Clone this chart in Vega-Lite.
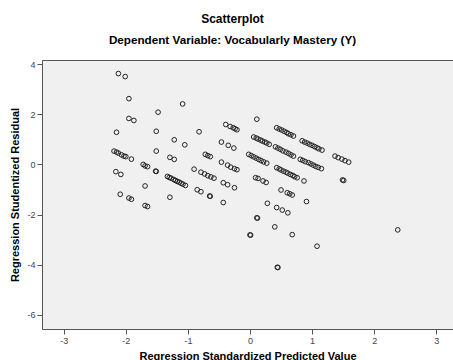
{
  "$schema": "https://vega.github.io/schema/vega-lite/v6.json",
  "autosize": {"type": "none"},
  "padding": {"left": 42, "top": 60, "right": 0, "bottom": 31},
  "width": 411,
  "height": 269,
  "background": "white",
  "config": {
    "font": "Liberation Sans",
    "view": {"fill": "#f0f0f0", "stroke": "#555555", "strokeWidth": 1}
  },
  "title": {
    "text": "Scatterplot",
    "subtitle": "Dependent Variable: Vocabularly Mastery (Y)",
    "anchor": "middle",
    "dx": -15,
    "fontSize": 12,
    "fontWeight": "bold",
    "color": "#000000",
    "subtitleFontSize": 11.7,
    "subtitleFontWeight": "bold",
    "subtitleColor": "#000000",
    "subtitlePadding": 9,
    "offset": 12
  },
  "data": {
    "values": [
      {"x": -2.19, "y": 0.53}, {"x": -2.15, "y": 0.49}, {"x": -2.12, "y": 0.45}, {"x": -2.07, "y": 0.38}, {"x": -2.03, "y": 0.33}, {"x": -2.0, "y": 0.31},
      {"x": -1.33, "y": -0.48}, {"x": -1.3, "y": -0.52}, {"x": -1.27, "y": -0.55}, {"x": -1.23, "y": -0.6}, {"x": -1.2, "y": -0.64}, {"x": -1.17, "y": -0.68}, {"x": -1.14, "y": -0.71}, {"x": -1.11, "y": -0.75}, {"x": -1.08, "y": -0.79}, {"x": -1.04, "y": -0.84},
      {"x": -0.9, "y": -0.19}, {"x": -0.79, "y": -0.31}, {"x": -0.73, "y": -0.38}, {"x": -0.68, "y": -0.45}, {"x": -0.63, "y": -0.5}, {"x": -0.58, "y": -0.55},
      {"x": -0.39, "y": 1.59}, {"x": -0.32, "y": 1.51}, {"x": -0.27, "y": 1.46}, {"x": -0.24, "y": 1.42}, {"x": -0.21, "y": 1.38},
      {"x": -0.46, "y": 0.09}, {"x": -0.36, "y": -0.03}, {"x": -0.31, "y": -0.11}, {"x": -0.25, "y": -0.17}, {"x": -0.21, "y": -0.21},
      {"x": 0.06, "y": 1.09}, {"x": 0.1, "y": 1.05}, {"x": 0.13, "y": 1.01}, {"x": 0.17, "y": 0.97}, {"x": 0.2, "y": 0.93}, {"x": 0.24, "y": 0.89}, {"x": 0.27, "y": 0.85}, {"x": 0.31, "y": 0.8},
      {"x": -0.02, "y": 0.4}, {"x": 0.02, "y": 0.35}, {"x": 0.06, "y": 0.3}, {"x": 0.1, "y": 0.25}, {"x": 0.14, "y": 0.2}, {"x": 0.18, "y": 0.15}, {"x": 0.22, "y": 0.1}, {"x": 0.27, "y": 0.05},
      {"x": 0.43, "y": 1.46}, {"x": 0.47, "y": 1.41}, {"x": 0.51, "y": 1.37}, {"x": 0.55, "y": 1.32}, {"x": 0.59, "y": 1.27}, {"x": 0.62, "y": 1.22}, {"x": 0.66, "y": 1.18}, {"x": 0.7, "y": 1.13},
      {"x": 0.41, "y": 0.7}, {"x": 0.45, "y": 0.65}, {"x": 0.49, "y": 0.6}, {"x": 0.53, "y": 0.54}, {"x": 0.58, "y": 0.49}, {"x": 0.62, "y": 0.44}, {"x": 0.66, "y": 0.38}, {"x": 0.7, "y": 0.33},
      {"x": 0.43, "y": -0.13}, {"x": 0.47, "y": -0.18}, {"x": 0.5, "y": -0.22}, {"x": 0.54, "y": -0.27}, {"x": 0.58, "y": -0.31}, {"x": 0.61, "y": -0.35}, {"x": 0.65, "y": -0.4}, {"x": 0.69, "y": -0.44}, {"x": 0.72, "y": -0.49}, {"x": 0.76, "y": -0.53},
      {"x": 0.84, "y": 0.94}, {"x": 0.88, "y": 0.89}, {"x": 0.92, "y": 0.85}, {"x": 0.96, "y": 0.8}, {"x": 1.0, "y": 0.76}, {"x": 1.04, "y": 0.71}, {"x": 1.08, "y": 0.66}, {"x": 1.11, "y": 0.62}, {"x": 1.16, "y": 0.57},
      {"x": 0.81, "y": 0.2}, {"x": 0.85, "y": 0.16}, {"x": 0.89, "y": 0.11}, {"x": 0.94, "y": 0.07}, {"x": 0.98, "y": 0.02}, {"x": 1.02, "y": -0.03}, {"x": 1.06, "y": -0.08}, {"x": 1.1, "y": -0.12}, {"x": 1.15, "y": -0.17},
      {"x": 1.37, "y": 0.33}, {"x": 1.42, "y": 0.27}, {"x": 1.48, "y": 0.21}, {"x": 1.53, "y": 0.15}, {"x": 1.59, "y": 0.09},
      {"x": -2.12, "y": 3.62}, {"x": -2.01, "y": 3.5}, {"x": -1.95, "y": 2.62}, {"x": -1.95, "y": 1.83}, {"x": -1.87, "y": 1.75}, {"x": -2.15, "y": 1.28},
      {"x": -1.085, "y": 2.41}, {"x": -1.48, "y": 2.08}, {"x": -1.51, "y": 1.32}, {"x": -1.22, "y": 0.98}, {"x": -1.05, "y": 0.78}, {"x": -1.51, "y": 0.53},
      {"x": -1.29, "y": 0.28}, {"x": -1.22, "y": 0.2}, {"x": -1.91, "y": 0.21}, {"x": -1.72, "y": 0.0}, {"x": -1.69, "y": -0.06}, {"x": -1.65, "y": -0.09},
      {"x": -1.52, "y": -0.27}, {"x": -1.51, "y": -0.28}, {"x": -2.16, "y": -0.29}, {"x": -2.08, "y": -0.4}, {"x": -1.69, "y": -0.86}, {"x": -2.09, "y": -1.19},
      {"x": -1.95, "y": -1.34}, {"x": -1.91, "y": -1.39}, {"x": -1.69, "y": -1.64}, {"x": -1.65, "y": -1.68}, {"x": -1.29, "y": -1.31},
      {"x": -0.85, "y": -1.01}, {"x": -0.79, "y": -1.09}, {"x": -0.65, "y": -1.26}, {"x": -0.64, "y": -1.27}, {"x": -0.82, "y": 1.3},
      {"x": -0.72, "y": 0.4}, {"x": -0.68, "y": 0.35}, {"x": -0.64, "y": 0.31}, {"x": -0.46, "y": 0.89}, {"x": -0.35, "y": 0.76}, {"x": -0.26, "y": 0.65},
      {"x": -0.43, "y": -0.73}, {"x": -0.36, "y": -0.81}, {"x": -0.25, "y": -0.93}, {"x": -0.43, "y": -1.52}, {"x": 0.11, "y": 1.8},
      {"x": 0.09, "y": -0.53}, {"x": 0.13, "y": -0.56}, {"x": 0.21, "y": -0.66}, {"x": 0.26, "y": -0.72},
      {"x": 0.11, "y": -2.13}, {"x": 0.12, "y": -2.14}, {"x": 0.0, "y": -2.81}, {"x": 0.01, "y": -2.82}, {"x": 0.28, "y": -1.55}, {"x": 0.4, "y": -2.49},
      {"x": 0.44, "y": -4.1}, {"x": 0.45, "y": -4.11}, {"x": 0.5, "y": -1.02}, {"x": 0.6, "y": -1.13}, {"x": 0.64, "y": -1.17}, {"x": 0.68, "y": -1.22},
      {"x": 0.43, "y": -1.72}, {"x": 0.52, "y": -1.82}, {"x": 0.61, "y": -1.93}, {"x": 0.68, "y": -2.8}, {"x": 0.87, "y": -0.66}, {"x": 0.91, "y": -1.48},
      {"x": 1.08, "y": -3.26}, {"x": 1.49, "y": -0.62}, {"x": 1.51, "y": -0.64}, {"x": 2.38, "y": -2.61}
    ]
  },
  "mark": {"type": "point", "shape": "circle", "filled": false, "stroke": "#222222", "strokeWidth": 1, "size": 22, "opacity": 1, "clip": true},
  "encoding": {
    "x": {
      "field": "x", "type": "quantitative",
      "title": "Regression Standardized Predicted Value",
      "scale": {"domain": [-3.35, 3.27], "nice": false, "zero": false},
      "axis": {"values": [-3, -2, -1, 0, 1, 2, 3], "labelExpr": "toString(datum.value)", "grid": false, "domain": false, "tickSize": 5, "tickColor": "#555555", "labelFontSize": 9, "labelColor": "#444444", "labelPadding": 2, "titleFontSize": 11, "titleFontWeight": "bold", "titleColor": "#000000", "titlePadding": 5}
    },
    "y": {
      "field": "y", "type": "quantitative",
      "title": "Regression Studentized Residual",
      "scale": {"domain": [-6.56, 4.16], "nice": false, "zero": false},
      "axis": {"values": [-6, -4, -2, 0, 2, 4], "labelExpr": "toString(datum.value)", "grid": false, "domain": false, "tickSize": 5, "tickColor": "#555555", "labelFontSize": 9, "labelColor": "#444444", "labelPadding": 2, "titleFontSize": 11, "titleFontWeight": "bold", "titleColor": "#000000", "titlePadding": 6}
    }
  }
}
